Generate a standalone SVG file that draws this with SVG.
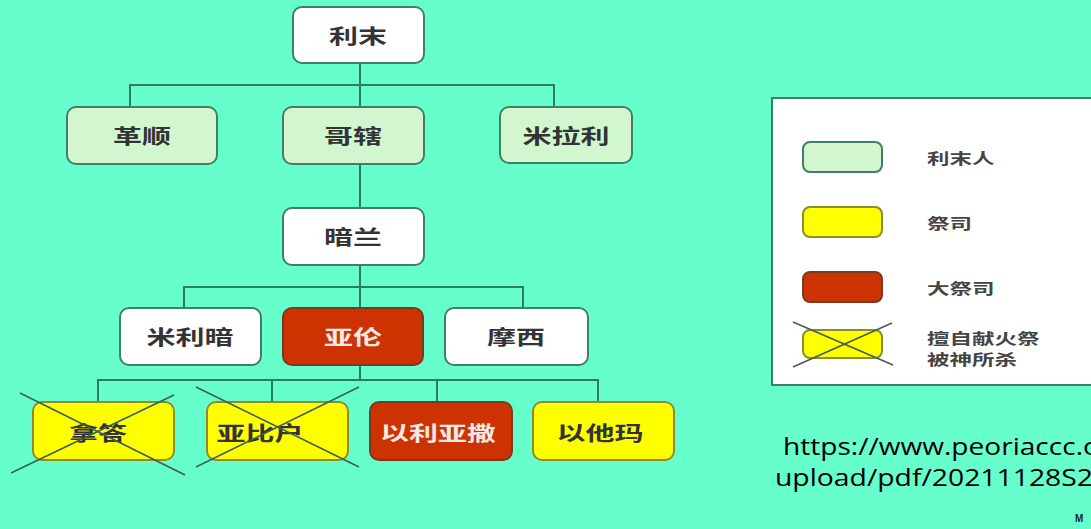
<svg xmlns="http://www.w3.org/2000/svg" width="1091" height="529" viewBox="0 0 1091 529">
<defs>
<style>
.bg{fill:#66ffcc}
.n rect{stroke:#3f7f68;stroke-width:2}
.w rect{fill:#ffffff}
.g rect{fill:#d2f7cf}
.r rect{fill:#cc3300;stroke:#7a3a20}
.y rect{fill:#ffff00;stroke:#8c8c2a}
.n text{font-family:"Noto Sans CJK SC","Noto Sans",sans-serif;font-size:20px;font-weight:bold;fill:#333333;text-anchor:middle;dominant-baseline:central}
.r text{fill:#f6e8e2}
.c path{fill:none;stroke:#2f7a64;stroke-width:2}
.x{stroke:#3d5f55;stroke-width:1.6}
.lg text{font-family:"Noto Sans CJK SC","Noto Sans",sans-serif;font-size:15px;font-weight:bold;fill:#444444;dominant-baseline:central}
.url{font-family:"Open Sans","Liberation Sans",sans-serif;font-size:24px;fill:#000000}
</style>
</defs>
<rect class="bg" x="0" y="0" width="1091" height="529"/>

<g id="connectors" class="c">
<path d="M360 63V107"/>
<path d="M130 107V85H554V107"/>
<path d="M360 164V207"/>
<path d="M360 265V308"/>
<path d="M184 308V287H523V308"/>
<path d="M360 365V380"/>
<path d="M98 402V380H598V402"/>
<path d="M272 380V402"/>
<path d="M437 380V402"/>
</g>

<g id="n-limo" class="n w"><rect x="293" y="7" width="131" height="56" rx="9"/><text transform="translate(358 35) scale(1.45 1)">利末</text></g>
<g id="n-geshun" class="n g"><rect x="67" y="107" width="150" height="57" rx="9"/><text transform="translate(142 135) scale(1.45 1)">革顺</text></g>
<g id="n-gehe" class="n g"><rect x="283" y="107" width="141" height="57" rx="9"/><text transform="translate(353 135) scale(1.45 1)">哥辖</text></g>
<g id="n-milali" class="n g"><rect x="500" y="107" width="132" height="56" rx="9"/><text transform="translate(566 135) scale(1.45 1)">米拉利</text></g>
<g id="n-anlan" class="n w"><rect x="283" y="208" width="141" height="57" rx="9"/><text transform="translate(353 236) scale(1.45 1)">暗兰</text></g>
<g id="n-miliam" class="n w"><rect x="120" y="308" width="141" height="57" rx="9"/><text transform="translate(190 336) scale(1.45 1)">米利暗</text></g>
<g id="n-aaron" class="n r"><rect x="283" y="308" width="140" height="57" rx="9"/><text transform="translate(353 336) scale(1.45 1)">亚伦</text></g>
<g id="n-moses" class="n w"><rect x="445" y="308" width="143" height="57" rx="9"/><text transform="translate(516 336) scale(1.45 1)">摩西</text></g>
<g id="n-nadab" class="n y"><rect x="33" y="402" width="141" height="58" rx="9"/><text transform="translate(98 432) scale(1.45 1)">拿答</text>
<line class="x" x1="20" y1="393" x2="185" y2="475"/><line class="x" x1="174" y1="395" x2="11" y2="473"/></g>
<g id="n-abihu" class="n y"><rect x="207" y="402" width="141" height="58" rx="9"/><text transform="translate(260 432) scale(1.45 1)">亚比户</text>
<line class="x" x1="196" y1="387" x2="359" y2="467"/><line class="x" x1="359" y1="387" x2="196" y2="467"/></g>
<g id="n-eleazar" class="n r"><rect x="370" y="402" width="142" height="58" rx="9"/><text transform="translate(438 432) scale(1.45 1)">以利亚撒</text></g>
<g id="n-ithamar" class="n y"><rect x="533" y="402" width="141" height="58" rx="9"/><text transform="translate(600 432) scale(1.45 1)">以他玛</text></g>

<g id="legend" class="lg">
<rect x="772" y="98" width="330" height="287" fill="#ffffff" stroke="#3f7f68" stroke-width="2"/>
<g class="n g"><rect x="803" y="142" width="79" height="30" rx="7"/></g>
<text transform="translate(927 158) scale(1.5 1)">利末人</text>
<g class="n y"><rect x="803" y="207" width="79" height="30" rx="7"/></g>
<text transform="translate(927 223) scale(1.5 1)">祭司</text>
<g class="n r"><rect x="803" y="272" width="79" height="30" rx="7"/></g>
<text transform="translate(927 288) scale(1.5 1)">大祭司</text>
<g class="n y"><rect x="803" y="330" width="79" height="28" rx="7"/></g>
<line class="x" x1="793" y1="322" x2="893" y2="365"/><line class="x" x1="793" y1="367" x2="892" y2="323"/>
<text transform="translate(927 338) scale(1.5 1)">擅自献火祭</text>
<text transform="translate(927 359) scale(1.5 1)">被神所杀</text>
</g>

<text class="url" transform="translate(783 455) scale(1.17 1)">https://www.peoriaccc.org/</text>
<text class="url" transform="translate(775 486) scale(1.18 1)">upload/pdf/20211128S2</text>
<text x="1075" y="522" font-family="Liberation Sans,sans-serif" font-size="10" font-weight="bold" fill="#222222">M</text>
</svg>
